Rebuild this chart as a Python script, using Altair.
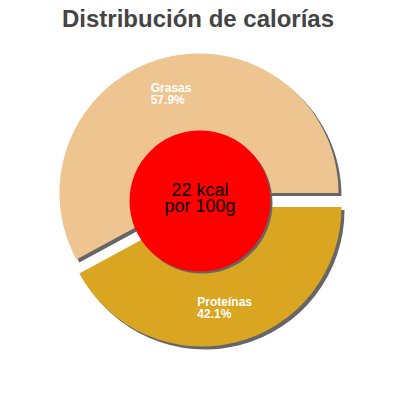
import math
import altair as alt
import pandas as pd

# ---- data ----
title_text = ["Distribución de calorías"]
nutrients = ["Proteínas", "Grasas"]
percent = [42.1, 57.9]
order = [0, 1]
colors = ["#DAA520", "#EEC591"]
kcal = [22]
per_label = ["por 100g"]

df = pd.DataFrame({"nutrient": nutrients, "pct": percent, "order": order})
kdf = pd.DataFrame({"kcal": kcal, "per": per_label})
tdf = pd.DataFrame({"title": title_text})

# ---- layout (style) ----
W, H = 380, 352
CX, CY = 191, 145          # pie centre
R = 139.5                  # pie radius
EX, EY = 3, 14             # explode offset of Proteínas
SX, SY = 3, 3              # shadow offset
CCX, CCY, CR = 192, 153, 70.5  # centre disc
SHADOW = "#666666"
FONT = "Liberation Sans"

theta_scale = alt.Scale(domain=[0, 100], range=[math.pi / 2, math.pi / 2 + 2 * math.pi])
color_scale = alt.Scale(domain=nutrients, range=colors)

base = alt.Chart(df).transform_window(
    cum="sum(pct)", sort=[alt.SortField("order")], frame=[None, 0]
).transform_calculate(
    start="datum.cum - datum.pct",
    mid="datum.cum - datum.pct / 2",
    label="datum.nutrient + '\\n' + format(datum.pct, '.1f') + '%'",
)


def slice_layer(name, dx, dy, shadow=False):
    sel = base.transform_filter(alt.datum.nutrient == name)
    enc = dict(
        theta=alt.Theta("start:Q", scale=theta_scale),
        theta2=alt.Theta2("cum:Q"),
        x=alt.value(CX + dx),
        y=alt.value(CY + dy),
    )
    if shadow:
        return sel.mark_arc(radius=R, color=SHADOW).encode(**enc)
    return sel.mark_arc(radius=R).encode(
        color=alt.Color("nutrient:N", scale=color_scale, legend=None), **enc
    )


def label_layer(name, dx, dy, tdx):
    sel = base.transform_filter(alt.datum.nutrient == name)
    return sel.mark_text(
        radius=103, align="left", baseline="middle", dx=tdx, dy=-5, lineBreak="\n",
        fontSize=12, fontWeight="bold", font=FONT, color="white", lineHeight=12,
    ).encode(
        theta=alt.Theta("mid:Q", scale=theta_scale),
        x=alt.value(CX + dx),
        y=alt.value(CY + dy),
        text="label:N",
    )


shadows = [
    slice_layer("Grasas", SX, SY, shadow=True),
    slice_layer("Proteínas", EX + SX, EY + SY, shadow=True),
]
slices = [
    slice_layer("Grasas", 0, 0),
    slice_layer("Proteínas", EX, EY),
]
labels = [
    label_layer("Grasas", 0, 0, -23),
    label_layer("Proteínas", EX, EY, -30),
]

disc_base = alt.Chart(kdf)
disc_size = (2 * CR) ** 2
disc_shadow = disc_base.mark_point(
    shape="circle", filled=True, size=disc_size, color=SHADOW, opacity=1, strokeWidth=0
).encode(x=alt.value(CCX + 2), y=alt.value(CCY + 2))
disc = disc_base.mark_point(
    shape="circle", filled=True, size=disc_size, color="#FF0000", opacity=1, strokeWidth=0
).encode(x=alt.value(CCX), y=alt.value(CCY))
disc_text = disc_base.transform_calculate(
    t="datum.kcal + ' kcal\\n' + datum.per"
).mark_text(
    align="center", baseline="middle", lineBreak="\n", fontSize=18, lineHeight=16,
    font=FONT, color="black", dy=-10,
).encode(x=alt.value(CCX), y=alt.value(CCY), text="t:N")

title = alt.Chart(tdf).mark_text(
    align="center", baseline="alphabetic", fontSize=24, fontWeight="bold",
    font=FONT, color="#444444",
).encode(x=alt.value(W / 2), y=alt.value(-21), text="title:N")

chart = alt.layer(
    *shadows, *slices, *labels, disc_shadow, disc, disc_text, title
).properties(
    width=W,
    height=H,
    autosize=alt.AutoSizeParams(type="none"),
    padding={"left": 0, "top": 40, "right": 0, "bottom": 0},
).configure_view(stroke=None)

chart.save("out.html", embed_options={"renderer": "svg", "actions": False})
